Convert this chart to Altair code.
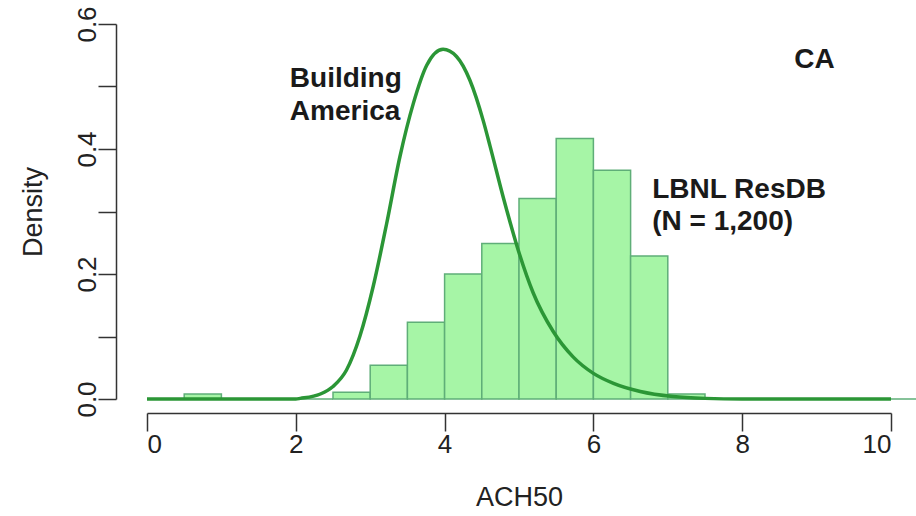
import altair as alt
import pandas as pd

# ---- data ----
BIN_WIDTH = 0.5
bin_start = [0.0, 0.5, 1.0, 1.5, 2.0, 2.5, 3.0, 3.5, 4.0, 4.5, 5.0,
             5.5, 6.0, 6.5, 7.0, 7.5, 8.0, 8.5, 9.0, 9.5, 10.0]
bin_density = [0.0, 0.008, 0.0, 0.0, 0.0, 0.011, 0.054, 0.123, 0.200, 0.249, 0.321,
               0.417, 0.366, 0.229, 0.008, 0.0, 0.0, 0.0, 0.0, 0.0, 0.0]

curve_x = [0.0, 1.0, 2.0, 2.06, 2.33, 2.50, 2.68, 2.86, 3.04, 3.22, 3.40, 3.58,
           3.76, 3.98, 4.16, 4.34, 4.52, 4.61, 4.79, 4.99, 5.19, 5.46, 5.73,
           6.00, 6.27, 6.63, 7.07, 7.5, 8.0, 9.0, 10.0]
curve_y = [0.0, 0.0, 0.0, 0.001, 0.008, 0.020, 0.046, 0.100, 0.180, 0.280, 0.388, 0.473,
           0.534, 0.5595, 0.548, 0.510, 0.445, 0.405, 0.322, 0.238, 0.170, 0.108, 0.067,
           0.041, 0.025, 0.012, 0.004, 0.001, 0.0, 0.0, 0.0]

x_ticks = [0, 2, 4, 6, 8, 10]
y_ticks = [0.0, 0.1, 0.2, 0.3, 0.4, 0.5, 0.6]

hist_df = pd.DataFrame({
    "start": bin_start,
    "end": [b + BIN_WIDTH for b in bin_start],
    "density": bin_density,
})
curve_df = pd.DataFrame({"x": curve_x, "y": curve_y})

FONT = "Liberation Sans"
xscale = alt.Scale(domain=[0, 10], nice=False, zero=False)
yscale = alt.Scale(domain=[0, 0.6], nice=False, zero=False)

xaxis = alt.Axis(
    values=x_ticks, format="d", offset=14, tickSize=18, tickWidth=1.5, domainWidth=1.5,
    tickColor="#333333", domainColor="#333333", grid=False,
    labelFont=FONT, labelFontSize=26, labelColor="#222222", labelPadding=0,
    title="ACH50", titleFont=FONT, titleFontSize=27, titleFontWeight="normal",
    titleColor="#222222", titlePadding=27,
)
yaxis = alt.Axis(
    values=y_ticks, offset=31, tickSize=18, tickWidth=1.5, domainWidth=1.5,
    tickColor="#333333", domainColor="#333333", grid=False,
    labelExpr="round(datum.value*10) % 2 == 0 ? format(datum.value, '.1f') : ''",
    labelAngle=270, labelAlign="center", labelBaseline="alphabetic",
    labelFont=FONT, labelFontSize=26, labelColor="#222222", labelPadding=3,
    labelOverlap=False,
    title="Density", titleFont=FONT, titleFontSize=27, titleFontWeight="normal",
    titleColor="#222222", titlePadding=27,
)

bars = alt.Chart(hist_df).mark_rect(
    fill="#a6f5a6", stroke="#5fae78", strokeWidth=1.5, clip=False
).encode(
    x=alt.X("start:Q", scale=xscale, axis=xaxis),
    x2="end:Q",
    y=alt.Y("density:Q", scale=yscale, axis=yaxis),
    y2=alt.datum(0),
)

curve = alt.Chart(curve_df).mark_line(
    color="#2b9636", strokeWidth=3.5, interpolate="monotone", clip=False
).encode(
    x=alt.X("x:Q", scale=xscale),
    y=alt.Y("y:Q", scale=yscale),
)


def label(txt, x, y):
    return alt.Chart(pd.DataFrame({"t": [txt]})).mark_text(
        align="left", baseline="middle", font=FONT, fontSize=28,
        fontWeight="bold", color="#1a1a1a"
    ).encode(
        x=alt.X(datum=x, scale=xscale),
        y=alt.Y(datum=y, scale=yscale),
        text="t:N",
    )


texts = [
    label("Building", 1.92, 0.512),
    label("America", 1.92, 0.459),
    label("LBNL ResDB", 6.79, 0.334),
    label("(N = 1,200)", 6.79, 0.283),
    label("CA", 8.70, 0.542),
]

chart = alt.layer(bars, curve, *texts).properties(
    width=744, height=375,
    padding={"left": 147, "top": 24, "right": 25, "bottom": 117},
    autosize="none",
    background="white",
).configure_view(stroke=None)

chart.save("out.html", embed_options={"renderer": "svg", "actions": False})
